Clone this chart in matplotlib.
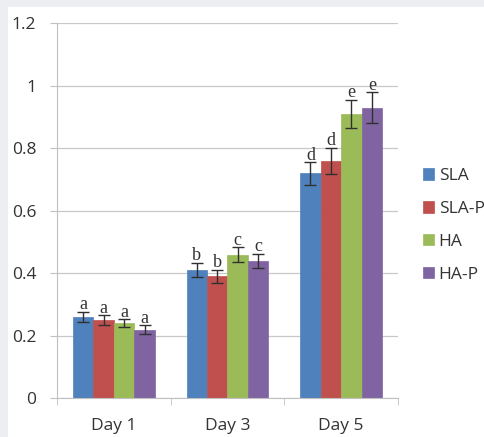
import matplotlib
matplotlib.use("Agg")
import matplotlib.pyplot as plt
import numpy as np
from matplotlib.patches import Rectangle

categories = ["Day 1", "Day 3", "Day 5"]
series = ["SLA", "SLA-P", "HA", "HA-P"]
colors = ["#4F81BD", "#C0504D", "#9BBB59", "#8064A2"]
sla = [0.26, 0.41, 0.72]
sla_p = [0.25, 0.39, 0.76]
ha = [0.24, 0.46, 0.91]
ha_p = [0.22, 0.44, 0.93]
sla_err = [0.017, 0.023, 0.036]
sla_p_err = [0.016, 0.021, 0.042]
ha_err = [0.013, 0.023, 0.045]
ha_p_err = [0.013, 0.022, 0.05]
sla_lbl = ["a", "b", "d"]
sla_p_lbl = ["a", "b", "d"]
ha_lbl = ["a", "c", "e"]
ha_p_lbl = ["a", "c", "e"]
yticks = [0, 0.2, 0.4, 0.6, 0.8, 1, 1.2]
ytick_labels = ["0", "0.2", "0.4", "0.6", "0.8", "1", "1.2"]

values = [sla, sla_p, ha, ha_p]
errors = [sla_err, sla_p_err, ha_err, ha_p_err]
letters = [sla_lbl, sla_p_lbl, ha_lbl, ha_p_lbl]

fig = plt.figure(figsize=(4.85, 4.37), dpi=100)
fig.patch.set_facecolor("#eceef1")
fig.add_artist(Rectangle((8/485, 0), 1, 1 - 7/437, transform=fig.transFigure,
                         facecolor="white", edgecolor="none", zorder=-10))
ax = fig.add_axes([57/485, 38.7/437, 341/485, 375/437])
ax.set_zorder(1)
ax.set_facecolor("white")

x = np.arange(len(categories))
w = 0.18
for i, (vals, errs, lbls) in enumerate(zip(values, errors, letters)):
    pos = x + (i - 1.5) * w
    ax.bar(pos, vals, width=w, color=colors[i], label=series[i], zorder=2,
           edgecolor=colors[i], linewidth=0.5)
    ax.errorbar(pos, vals, yerr=errs, fmt="none", ecolor="#303030", elinewidth=1.0,
                capsize=4.5, capthick=1.0, zorder=3)
    for p, v, e, l in zip(pos, vals, errs, lbls):
        ax.text(p, v + e + 0.008, l, ha="center", va="baseline",
                family="Liberation Serif", fontsize=13, color="#333333", zorder=4)

ax.set_xlim(-0.5, 2.5)
ax.set_ylim(0, 1.2)
ax.set_yticks(yticks)
ax.set_yticklabels(ytick_labels)
ax.yaxis.grid(True, color="#c8c8c8", linewidth=0.9, zorder=0)
ax.set_axisbelow(True)
for s in ["top", "right"]:
    ax.spines[s].set_visible(False)
ax.spines["left"].set_color("#c0c0c0")
ax.spines["bottom"].set_color("#c0c0c0")
ax.tick_params(axis="y", length=5, color="#c0c0c0", labelsize=12.5, labelcolor="#333333", pad=10)
ax.set_xticks(x)
ax.set_xticklabels(categories)
ax.set_xticks([-0.5, 0.5, 1.5, 2.5], minor=True)
ax.tick_params(axis="x", which="major", length=0, labelsize=12.5, labelcolor="#333333", pad=14)
ax.tick_params(axis="x", which="minor", length=5, color="#c0c0c0")
for t in ax.get_xticklabels() + ax.get_yticklabels():
    t.set_family("Open Sans")

leg = ax.legend(loc="upper left", bbox_to_anchor=(423/485, 1 - 168/437), bbox_transform=fig.transFigure,
                frameon=False, handlelength=0.65, handleheight=0.65, handletextpad=0.25,
                labelspacing=0.97, prop={"family": "Open Sans", "size": 12.5},
                borderaxespad=0, borderpad=0)
for t in leg.get_texts():
    t.set_color("#333333")

fig.savefig("out.png", dpi=100, facecolor=fig.get_facecolor())
